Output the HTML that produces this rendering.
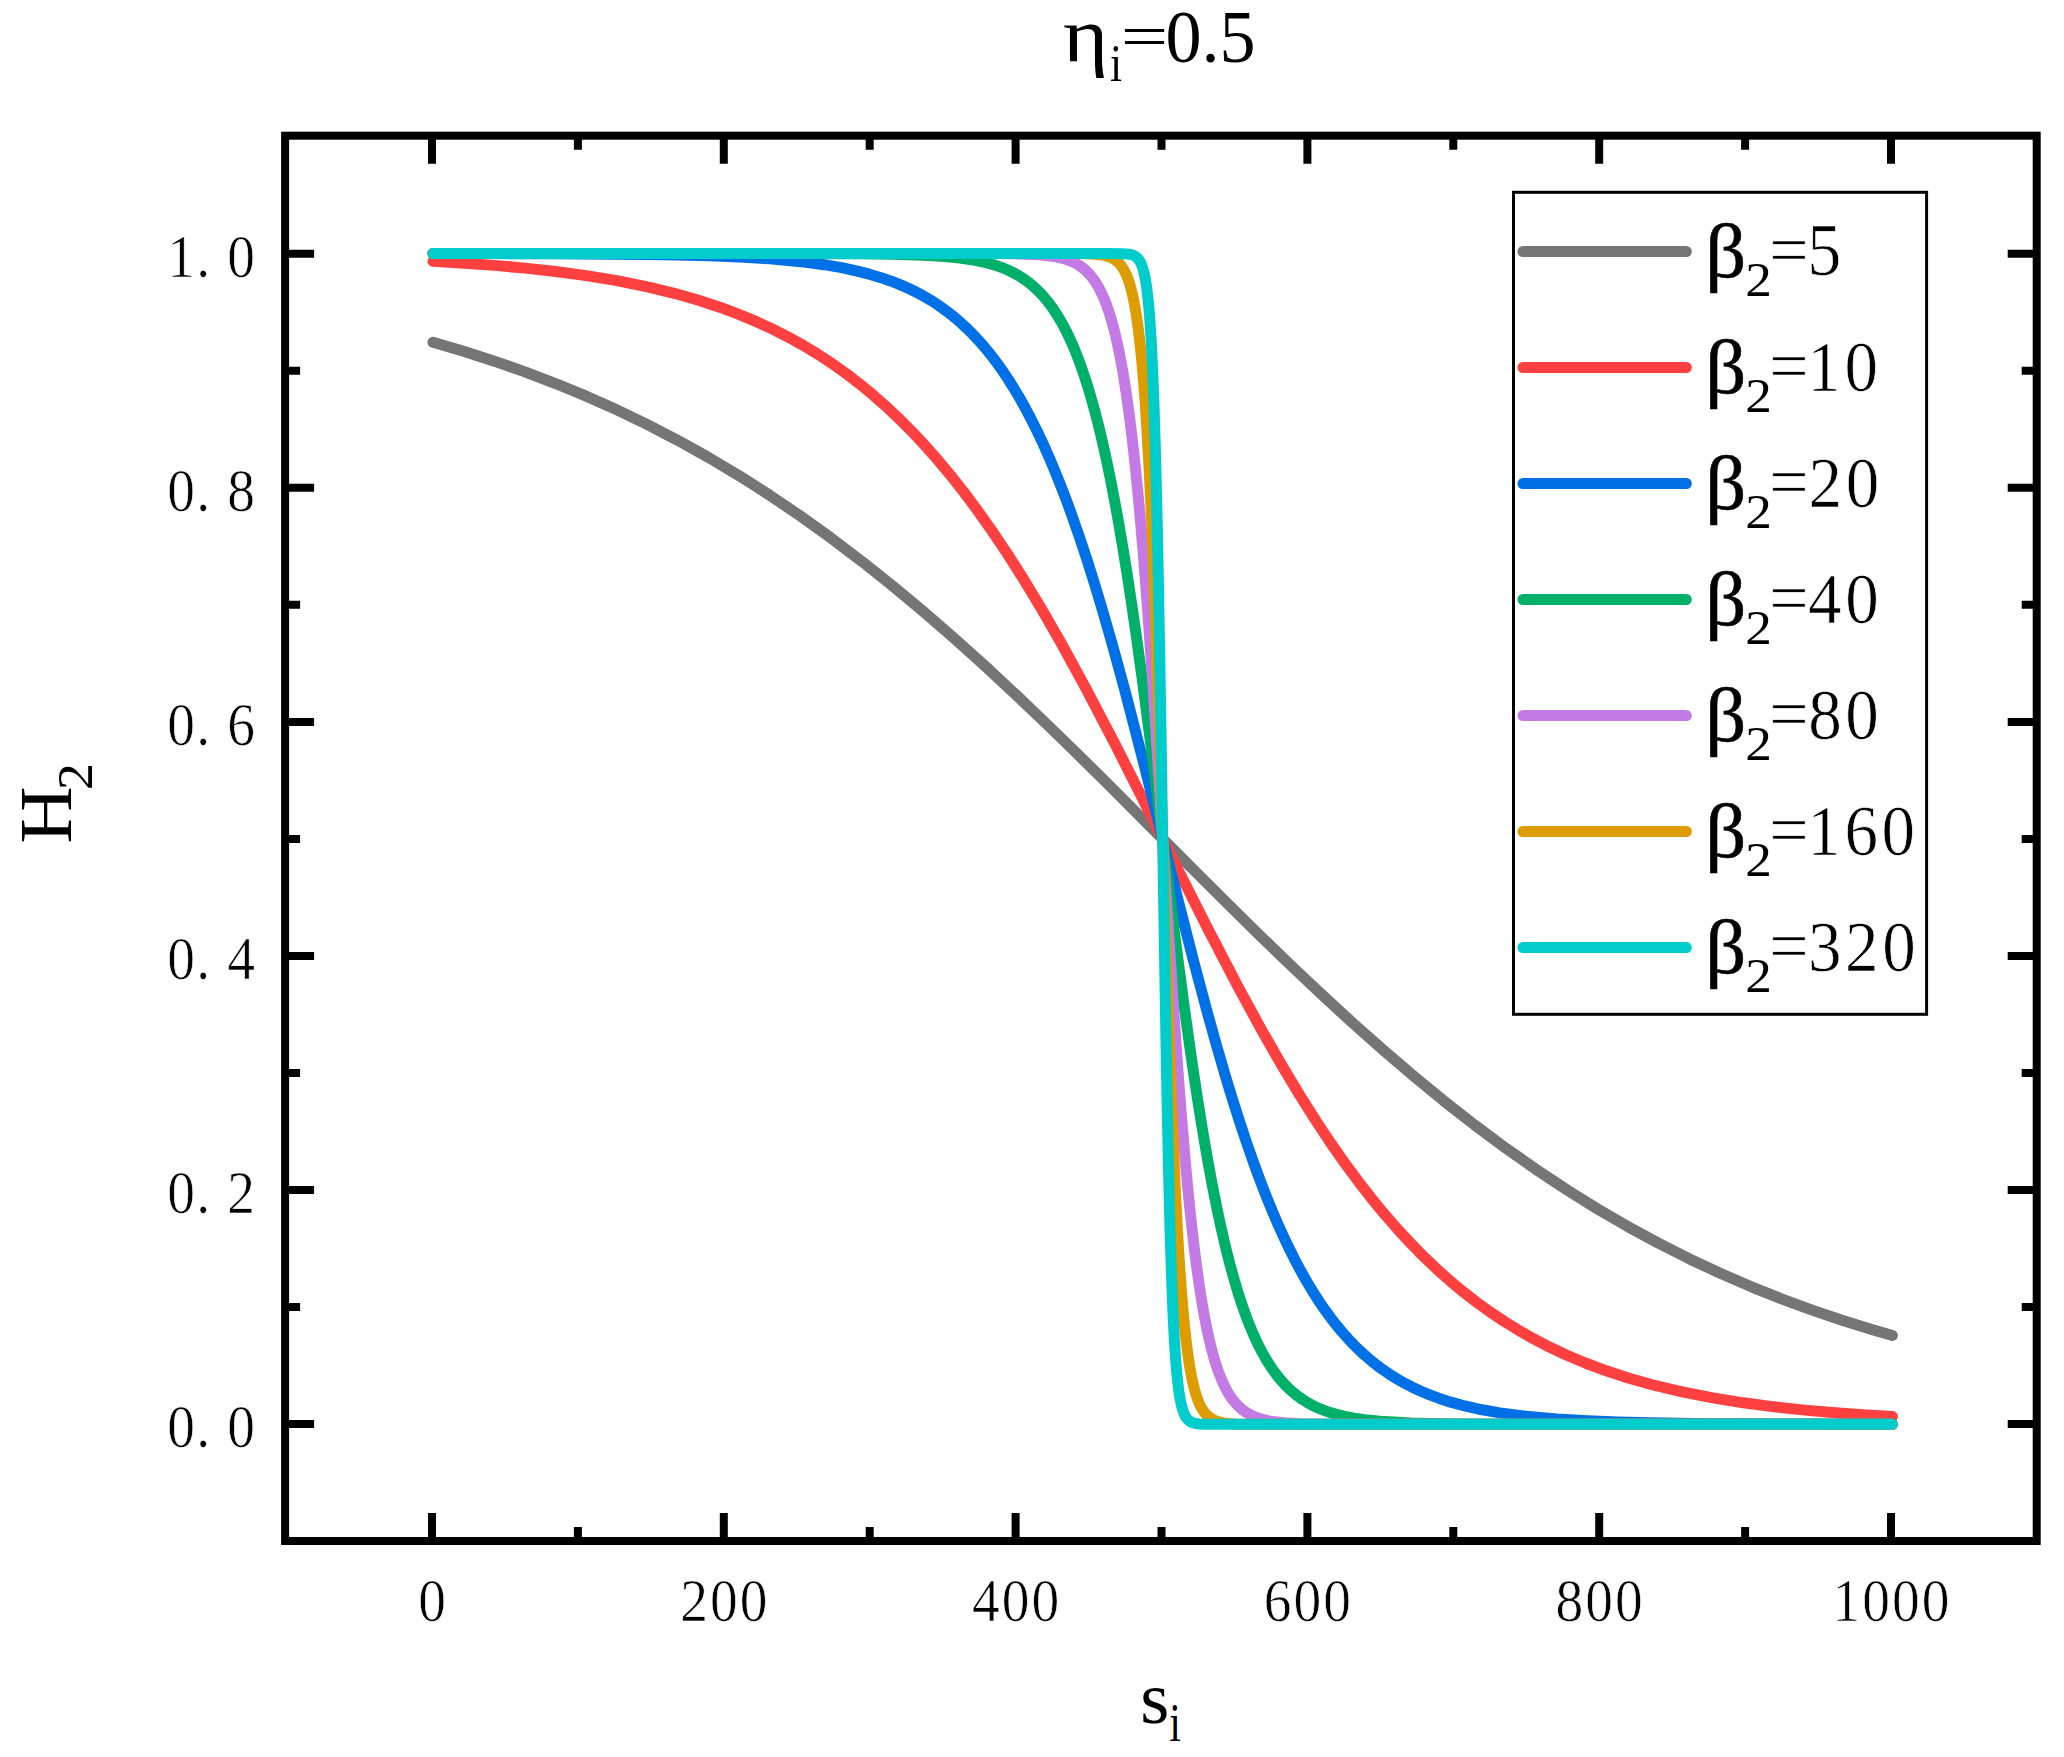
<!DOCTYPE html>
<html lang="en"><head><meta charset="utf-8"><title>H2 vs s_i</title>
<style>html,body{margin:0;padding:0;background:#fff}body{width:2064px;height:1757px;overflow:hidden}svg{display:block}text{font-family:"Liberation Serif", serif;fill:#000}.thin{stroke:#fff;stroke-width:0.7px;paint-order:fill stroke}</style></head><body>
<svg width="2064" height="1757" viewBox="0 0 2064 1757">
<rect x="0" y="0" width="2064" height="1757" fill="#fff"/>
<g fill="none" stroke-width="11.0" stroke-linecap="round" stroke-linejoin="round">
<path d="M433.00 342.31 L463.65 351.33 L494.29 361.16 L524.94 371.87 L555.59 383.52 L586.24 396.17 L616.88 409.85 L647.53 424.63 L678.18 440.55 L708.83 457.65 L739.47 475.95 L770.12 495.49 L800.77 516.27 L831.42 538.28 L862.06 561.52 L892.71 585.94 L923.36 611.49 L954.01 638.10 L984.65 665.69 L1015.30 694.15 L1045.95 723.36 L1076.60 753.17 L1107.24 783.45 L1137.89 814.04 L1168.54 844.75 L1199.18 875.44 L1229.83 905.93 L1260.48 936.05 L1291.13 965.65 L1321.77 994.59 L1352.42 1022.73 L1383.07 1049.96 L1413.72 1076.18 L1444.36 1101.30 L1475.01 1125.27 L1505.66 1148.05 L1536.31 1169.59 L1566.95 1189.90 L1597.60 1208.96 L1628.25 1226.81 L1658.90 1243.45 L1689.54 1258.93 L1720.19 1273.29 L1750.84 1286.57 L1781.49 1298.83 L1812.13 1310.11 L1842.78 1320.49 L1873.43 1330.00 L1892.40 1335.49" stroke="#757575"/>
<path d="M433.00 261.34 L463.65 263.15 L494.29 265.38 L524.94 268.13 L555.59 271.49 L586.24 275.62 L616.88 280.67 L647.53 286.83 L675.26 293.57 L698.61 300.24 L720.50 307.46 L739.47 314.56 L756.99 321.89 L773.04 329.33 L789.09 337.51 L803.69 345.65 L818.28 354.51 L832.88 364.13 L846.01 373.48 L859.14 383.52 L872.28 394.30 L885.41 405.83 L898.55 418.16 L911.68 431.31 L924.82 445.31 L937.95 460.19 L951.09 475.95 L964.22 492.62 L977.36 510.21 L991.95 530.81 L1006.54 552.53 L1022.60 577.67 L1040.11 606.54 L1060.54 641.99 L1085.35 687.30 L1116.00 746.03 L1146.65 806.74 L1177.29 868.15 L1207.94 928.92 L1238.59 987.76 L1261.94 1030.61 L1282.37 1066.31 L1299.88 1095.42 L1315.94 1120.80 L1330.53 1142.74 L1345.12 1163.56 L1358.26 1181.35 L1371.39 1198.22 L1384.53 1214.19 L1397.66 1229.26 L1410.80 1243.45 L1423.93 1256.79 L1437.07 1269.30 L1450.20 1281.01 L1463.34 1291.95 L1476.47 1302.15 L1489.61 1311.65 L1504.20 1321.43 L1518.79 1330.43 L1533.39 1338.71 L1549.44 1347.04 L1566.95 1355.26 L1585.93 1363.24 L1606.36 1370.85 L1628.25 1378.00 L1653.06 1385.00 L1682.25 1391.92 L1712.89 1397.92 L1743.54 1402.82 L1774.19 1406.83 L1804.84 1410.10 L1835.48 1412.76 L1866.13 1414.93 L1892.40 1416.46" stroke="#FF4040"/>
<path d="M433.00 253.55 L463.65 253.58 L494.29 253.62 L524.94 253.69 L555.59 253.79 L586.24 253.93 L616.88 254.16 L647.53 254.50 L678.18 255.03 L708.83 255.82 L739.47 257.03 L770.12 258.87 L800.77 261.65 L824.12 264.70 L841.63 267.70 L856.23 270.80 L869.36 274.15 L881.04 277.66 L891.25 281.20 L900.01 284.64 L908.76 288.49 L916.06 292.05 L923.36 295.96 L930.66 300.24 L937.95 304.94 L943.79 309.03 L949.63 313.41 L955.47 318.13 L961.30 323.19 L967.14 328.62 L972.98 334.45 L978.82 340.69 L984.65 347.37 L990.49 354.51 L996.33 362.14 L1002.17 370.29 L1008.00 378.97 L1013.84 388.22 L1019.68 398.06 L1025.52 408.50 L1031.35 419.58 L1037.19 431.31 L1043.03 443.71 L1048.87 456.81 L1054.70 470.60 L1060.54 485.10 L1066.38 500.33 L1072.22 516.27 L1079.51 537.21 L1086.81 559.25 L1094.11 582.38 L1102.86 611.49 L1113.08 647.19 L1124.76 690.04 L1143.73 763.22 L1174.38 885.63 L1193.35 960.06 L1206.48 1009.43 L1216.70 1046.13 L1225.45 1076.18 L1232.75 1100.13 L1240.05 1123.04 L1247.35 1144.87 L1254.64 1165.58 L1260.48 1181.35 L1266.32 1196.39 L1272.15 1210.72 L1277.99 1224.33 L1283.83 1237.25 L1289.67 1249.48 L1295.51 1261.05 L1301.34 1271.97 L1307.18 1282.26 L1313.02 1291.95 L1318.86 1301.05 L1324.69 1309.60 L1330.53 1317.61 L1336.37 1325.12 L1342.21 1332.15 L1348.04 1338.71 L1353.88 1344.85 L1359.72 1350.57 L1365.56 1355.91 L1371.39 1360.88 L1377.23 1365.51 L1383.07 1369.82 L1390.37 1374.79 L1397.66 1379.32 L1404.96 1383.45 L1412.26 1387.21 L1421.01 1391.29 L1429.77 1394.93 L1439.99 1398.68 L1451.66 1402.40 L1464.80 1405.95 L1480.85 1409.53 L1499.82 1412.88 L1526.09 1416.31 L1556.74 1419.04 L1587.39 1420.84 L1618.03 1422.02 L1648.68 1422.80 L1679.33 1423.32 L1709.98 1423.65 L1740.62 1423.87 L1771.27 1424.02 L1801.92 1424.12 L1832.56 1424.18 L1863.21 1424.22 L1892.40 1424.25" stroke="#0070E6"/>
<path d="M433.00 253.50 L463.65 253.50 L494.29 253.50 L524.94 253.50 L555.59 253.50 L586.24 253.50 L616.88 253.50 L647.53 253.50 L678.18 253.50 L708.83 253.50 L739.47 253.51 L770.12 253.52 L800.77 253.56 L831.42 253.63 L862.06 253.81 L892.71 254.22 L923.36 255.16 L945.25 256.51 L959.84 257.99 L970.06 259.43 L978.82 261.03 L986.11 262.68 L991.95 264.26 L997.79 266.11 L1002.17 267.70 L1006.54 269.49 L1010.92 271.49 L1015.30 273.75 L1019.68 276.28 L1022.60 278.14 L1025.52 280.14 L1028.44 282.30 L1031.35 284.64 L1034.27 287.16 L1037.19 289.87 L1040.11 292.80 L1043.03 295.96 L1045.95 299.36 L1048.87 303.01 L1051.79 306.95 L1054.70 311.18 L1057.62 315.73 L1060.54 320.62 L1063.46 325.86 L1066.38 331.48 L1069.30 337.51 L1072.22 343.97 L1075.14 350.88 L1078.05 358.26 L1080.97 366.15 L1083.89 374.56 L1086.81 383.52 L1089.73 393.06 L1092.65 403.20 L1095.57 413.96 L1098.49 425.36 L1101.41 437.43 L1104.32 450.17 L1107.24 463.61 L1110.16 477.76 L1113.08 492.62 L1116.00 508.21 L1118.92 524.51 L1123.30 550.30 L1127.67 577.67 L1132.05 606.54 L1136.43 636.81 L1142.27 679.14 L1151.02 746.03 L1175.83 943.15 L1183.13 998.66 L1188.97 1040.99 L1193.35 1071.26 L1197.73 1100.13 L1202.10 1127.50 L1206.48 1153.29 L1209.40 1169.59 L1212.32 1185.18 L1215.24 1200.04 L1218.16 1214.19 L1221.08 1227.63 L1223.99 1240.37 L1226.91 1252.44 L1229.83 1263.84 L1232.75 1274.60 L1235.67 1284.74 L1238.59 1294.28 L1241.51 1303.24 L1244.43 1311.65 L1247.35 1319.54 L1250.26 1326.92 L1253.18 1333.83 L1256.10 1340.29 L1259.02 1346.32 L1261.94 1351.94 L1264.86 1357.18 L1267.78 1362.07 L1270.70 1366.62 L1273.61 1370.85 L1276.53 1374.79 L1279.45 1378.44 L1282.37 1381.84 L1285.29 1385.00 L1288.21 1387.93 L1291.13 1390.64 L1294.05 1393.16 L1296.96 1395.50 L1299.88 1397.66 L1302.80 1399.66 L1307.18 1402.40 L1311.56 1404.83 L1315.94 1407.00 L1320.32 1408.93 L1324.69 1410.65 L1330.53 1412.65 L1336.37 1414.36 L1343.67 1416.15 L1352.42 1417.88 L1364.10 1419.63 L1380.15 1421.29 L1410.80 1423.00 L1441.45 1423.74 L1472.09 1424.06 L1502.74 1424.20 L1533.39 1424.25 L1564.04 1424.28 L1594.68 1424.29 L1625.33 1424.30 L1655.98 1424.30 L1686.62 1424.30 L1717.27 1424.30 L1747.92 1424.30 L1778.57 1424.30 L1809.21 1424.30 L1839.86 1424.30 L1870.51 1424.30 L1892.40 1424.30" stroke="#00AF68"/>
<path d="M433.00 253.50 L463.65 253.50 L494.29 253.50 L524.94 253.50 L555.59 253.50 L586.24 253.50 L616.88 253.50 L647.53 253.50 L678.18 253.50 L708.83 253.50 L739.47 253.50 L770.12 253.50 L800.77 253.50 L831.42 253.50 L862.06 253.50 L892.71 253.50 L923.36 253.50 L954.01 253.51 L984.65 253.57 L1015.30 253.86 L1034.27 254.52 L1044.49 255.29 L1051.79 256.17 L1056.16 256.90 L1060.54 257.81 L1063.46 258.56 L1066.38 259.43 L1069.30 260.46 L1072.22 261.65 L1075.14 263.06 L1078.05 264.70 L1079.51 265.62 L1080.97 266.62 L1082.43 267.70 L1083.89 268.87 L1085.35 270.13 L1086.81 271.49 L1088.27 272.97 L1089.73 274.56 L1091.19 276.28 L1092.65 278.14 L1094.11 280.14 L1095.57 282.30 L1097.03 284.64 L1098.49 287.16 L1099.95 289.87 L1101.41 292.80 L1102.86 295.96 L1104.32 299.36 L1105.78 303.01 L1107.24 306.95 L1108.70 311.18 L1110.16 315.73 L1111.62 320.62 L1113.08 325.86 L1114.54 331.48 L1116.00 337.51 L1117.46 343.97 L1118.92 350.88 L1120.38 358.26 L1121.84 366.15 L1123.30 374.56 L1124.76 383.52 L1126.22 393.06 L1127.67 403.20 L1129.13 413.96 L1130.59 425.36 L1132.05 437.43 L1133.51 450.17 L1134.97 463.61 L1136.43 477.76 L1137.89 492.62 L1139.35 508.21 L1140.81 524.51 L1143.73 559.25 L1146.65 596.75 L1149.57 636.81 L1152.48 679.14 L1156.86 746.03 L1168.54 931.77 L1172.92 998.66 L1175.83 1040.99 L1178.75 1081.05 L1181.67 1118.55 L1184.59 1153.29 L1186.05 1169.59 L1187.51 1185.18 L1188.97 1200.04 L1190.43 1214.19 L1191.89 1227.63 L1193.35 1240.37 L1194.81 1252.44 L1196.27 1263.84 L1197.73 1274.60 L1199.18 1284.74 L1200.64 1294.28 L1202.10 1303.24 L1203.56 1311.65 L1205.02 1319.54 L1206.48 1326.92 L1207.94 1333.83 L1209.40 1340.29 L1210.86 1346.32 L1212.32 1351.94 L1213.78 1357.18 L1215.24 1362.07 L1216.70 1366.62 L1218.16 1370.85 L1219.62 1374.79 L1221.08 1378.44 L1222.54 1381.84 L1223.99 1385.00 L1225.45 1387.93 L1226.91 1390.64 L1228.37 1393.16 L1229.83 1395.50 L1231.29 1397.66 L1232.75 1399.66 L1234.21 1401.52 L1235.67 1403.24 L1237.13 1404.83 L1238.59 1406.31 L1240.05 1407.67 L1241.51 1408.93 L1242.97 1410.10 L1244.43 1411.18 L1245.89 1412.18 L1248.80 1413.95 L1251.72 1415.47 L1254.64 1416.77 L1257.56 1417.88 L1260.48 1418.82 L1264.86 1419.99 L1269.24 1420.90 L1275.07 1421.83 L1283.83 1422.77 L1301.34 1423.71 L1331.99 1424.19 L1362.64 1424.28 L1393.29 1424.30 L1423.93 1424.30 L1454.58 1424.30 L1485.23 1424.30 L1515.87 1424.30 L1546.52 1424.30 L1577.17 1424.30 L1607.82 1424.30 L1638.46 1424.30 L1669.11 1424.30 L1699.76 1424.30 L1730.41 1424.30 L1761.05 1424.30 L1791.70 1424.30 L1822.35 1424.30 L1853.00 1424.30 L1883.64 1424.30 L1892.40 1424.30" stroke="#C47AE4"/>
<path d="M433.00 253.50 L463.65 253.50 L494.29 253.50 L524.94 253.50 L555.59 253.50 L586.24 253.50 L616.88 253.50 L647.53 253.50 L678.18 253.50 L708.83 253.50 L739.47 253.50 L770.12 253.50 L800.77 253.50 L831.42 253.50 L862.06 253.50 L892.71 253.50 L923.36 253.50 L954.01 253.50 L984.65 253.50 L1015.30 253.50 L1045.95 253.50 L1076.60 253.59 L1089.73 253.89 L1095.57 254.24 L1099.95 254.70 L1102.86 255.16 L1105.78 255.78 L1107.24 256.17 L1108.70 256.64 L1110.16 257.18 L1111.62 257.81 L1113.08 258.56 L1114.54 259.43 L1116.00 260.46 L1117.46 261.65 L1118.92 263.06 L1120.38 264.70 L1121.84 266.62 L1123.30 268.87 L1124.76 271.49 L1126.22 274.56 L1127.67 278.14 L1129.13 282.30 L1130.59 287.16 L1132.05 292.80 L1133.51 299.36 L1134.97 306.95 L1136.43 315.73 L1137.89 325.86 L1139.35 337.51 L1140.81 350.88 L1142.27 366.15 L1143.73 383.52 L1145.19 403.20 L1146.65 425.36 L1148.11 450.17 L1149.57 477.76 L1151.02 508.21 L1152.48 541.53 L1153.94 577.67 L1155.40 616.48 L1156.86 657.71 L1159.78 746.03 L1165.62 931.77 L1168.54 1020.09 L1170.00 1061.32 L1171.46 1100.13 L1172.92 1136.27 L1174.38 1169.59 L1175.83 1200.04 L1177.29 1227.63 L1178.75 1252.44 L1180.21 1274.60 L1181.67 1294.28 L1183.13 1311.65 L1184.59 1326.92 L1186.05 1340.29 L1187.51 1351.94 L1188.97 1362.07 L1190.43 1370.85 L1191.89 1378.44 L1193.35 1385.00 L1194.81 1390.64 L1196.27 1395.50 L1197.73 1399.66 L1199.18 1403.24 L1200.64 1406.31 L1202.10 1408.93 L1203.56 1411.18 L1205.02 1413.10 L1206.48 1414.74 L1207.94 1416.15 L1209.40 1417.34 L1210.86 1418.37 L1212.32 1419.24 L1213.78 1419.99 L1215.24 1420.62 L1216.70 1421.16 L1218.16 1421.63 L1221.08 1422.36 L1223.99 1422.89 L1228.37 1423.43 L1235.67 1423.91 L1266.32 1424.29 L1296.96 1424.30 L1327.61 1424.30 L1358.26 1424.30 L1388.91 1424.30 L1419.55 1424.30 L1450.20 1424.30 L1480.85 1424.30 L1511.50 1424.30 L1542.14 1424.30 L1572.79 1424.30 L1603.44 1424.30 L1634.09 1424.30 L1664.73 1424.30 L1695.38 1424.30 L1726.03 1424.30 L1756.68 1424.30 L1787.32 1424.30 L1817.97 1424.30 L1848.62 1424.30 L1879.27 1424.30 L1892.40 1424.30" stroke="#DD9C00"/>
<path d="M433.00 253.50 L463.65 253.50 L494.29 253.50 L524.94 253.50 L555.59 253.50 L586.24 253.50 L616.88 253.50 L647.53 253.50 L678.18 253.50 L708.83 253.50 L739.47 253.50 L770.12 253.50 L800.77 253.50 L831.42 253.50 L862.06 253.50 L892.71 253.50 L923.36 253.50 L954.01 253.50 L984.65 253.50 L1015.30 253.50 L1045.95 253.50 L1076.60 253.50 L1107.24 253.51 L1121.84 253.65 L1126.22 253.89 L1129.13 254.24 L1130.59 254.52 L1132.05 254.91 L1133.51 255.44 L1134.97 256.17 L1136.43 257.18 L1137.89 258.56 L1139.35 260.46 L1140.81 263.06 L1142.27 266.62 L1143.73 271.49 L1145.19 278.14 L1146.65 287.16 L1148.11 299.36 L1149.57 315.73 L1151.02 337.51 L1152.48 366.15 L1153.94 403.20 L1155.40 450.17 L1156.86 508.21 L1158.32 577.67 L1159.78 657.71 L1161.24 746.03 L1164.16 931.77 L1165.62 1020.09 L1167.08 1100.13 L1168.54 1169.59 L1170.00 1227.63 L1171.46 1274.60 L1172.92 1311.65 L1174.38 1340.29 L1175.83 1362.07 L1177.29 1378.44 L1178.75 1390.64 L1180.21 1399.66 L1181.67 1406.31 L1183.13 1411.18 L1184.59 1414.74 L1186.05 1417.34 L1187.51 1419.24 L1188.97 1420.62 L1190.43 1421.63 L1191.89 1422.36 L1193.35 1422.89 L1194.81 1423.28 L1196.27 1423.56 L1199.18 1423.91 L1205.02 1424.19 L1235.67 1424.30 L1266.32 1424.30 L1296.96 1424.30 L1327.61 1424.30 L1358.26 1424.30 L1388.91 1424.30 L1419.55 1424.30 L1450.20 1424.30 L1480.85 1424.30 L1511.50 1424.30 L1542.14 1424.30 L1572.79 1424.30 L1603.44 1424.30 L1634.09 1424.30 L1664.73 1424.30 L1695.38 1424.30 L1726.03 1424.30 L1756.68 1424.30 L1787.32 1424.30 L1817.97 1424.30 L1848.62 1424.30 L1879.27 1424.30 L1892.40 1424.30" stroke="#00CCCC"/>
</g>
<g stroke="#000" stroke-width="8" fill="none" stroke-linecap="butt">
<rect x="285.1" y="135.7" width="1751.6" height="1405.3"/>
<path d="M432.00 1541.00 v-28.10 M432.00 135.70 v28.10 M577.90 1541.00 v-14.10 M577.90 135.70 v14.10 M723.80 1541.00 v-28.10 M723.80 135.70 v28.10 M869.70 1541.00 v-14.10 M869.70 135.70 v14.10 M1015.60 1541.00 v-28.10 M1015.60 135.70 v28.10 M1161.50 1541.00 v-14.10 M1161.50 135.70 v14.10 M1307.40 1541.00 v-28.10 M1307.40 135.70 v28.10 M1453.30 1541.00 v-14.10 M1453.30 135.70 v14.10 M1599.20 1541.00 v-28.10 M1599.20 135.70 v28.10 M1745.10 1541.00 v-14.10 M1745.10 135.70 v14.10 M1891.00 1541.00 v-28.10 M1891.00 135.70 v28.10 M285.10 1424.00 h29.00 M2036.70 1424.00 h-29.00 M285.10 1306.98 h15.00 M2036.70 1306.98 h-15.00 M285.10 1189.96 h29.00 M2036.70 1189.96 h-29.00 M285.10 1072.94 h15.00 M2036.70 1072.94 h-15.00 M285.10 955.92 h29.00 M2036.70 955.92 h-29.00 M285.10 838.90 h15.00 M2036.70 838.90 h-15.00 M285.10 721.88 h29.00 M2036.70 721.88 h-29.00 M285.10 604.86 h15.00 M2036.70 604.86 h-15.00 M285.10 487.84 h29.00 M2036.70 487.84 h-29.00 M285.10 370.82 h15.00 M2036.70 370.82 h-15.00 M285.10 253.80 h29.00 M2036.70 253.80 h-29.00"/>
</g>
<g font-size="61.6" text-anchor="middle" class="thin">
<text transform="scale(0.900 1)" x="480.00" y="1620.9">0</text>
<text transform="scale(0.900 1)" x="771.17 804.22 837.28" y="1620.9">200</text>
<text transform="scale(0.900 1)" x="1095.39 1128.44 1161.50" y="1620.9">400</text>
<text transform="scale(0.900 1)" x="1419.61 1452.67 1485.72" y="1620.9">600</text>
<text transform="scale(0.900 1)" x="1743.83 1776.89 1809.94" y="1620.9">800</text>
<text transform="scale(0.900 1)" x="2051.53 2084.58 2117.64 2150.69" y="1620.9">1000</text>
<text transform="scale(0.900 1)" x="201.33 225.89 267.89" y="1446.8">0.0</text>
<text transform="scale(0.900 1)" x="201.33 225.89 267.89" y="1212.8">0.2</text>
<text transform="scale(0.900 1)" x="201.33 225.89 267.89" y="978.7">0.4</text>
<text transform="scale(0.900 1)" x="201.33 225.89 267.89" y="744.7">0.6</text>
<text transform="scale(0.900 1)" x="201.33 225.89 267.89" y="510.6">0.8</text>
<text transform="scale(0.900 1)" x="201.33 225.89 267.89" y="276.6">1.0</text>
</g>
<text><tspan x="1063.05" y="61.20" font-size="79.00" textLength="45.28" lengthAdjust="spacingAndGlyphs">η</tspan><tspan x="1109.88" y="81.00" font-size="53.20" textLength="12.15" lengthAdjust="spacingAndGlyphs">i</tspan><tspan x="1120.70" y="56.50" font-size="60.40" textLength="47.51" lengthAdjust="spacingAndGlyphs">=</tspan><tspan x="1165.45" y="62.00" font-size="74.60" textLength="90.16" lengthAdjust="spacingAndGlyphs">0.5</tspan></text>
<text><tspan x="1140.34" y="1723.10" font-size="74.60" textLength="29.06" lengthAdjust="spacingAndGlyphs">s</tspan><tspan x="1169.32" y="1741.20" font-size="54.20" textLength="11.68" lengthAdjust="spacingAndGlyphs">i</tspan></text>
<text transform="translate(0 841.2) rotate(-90)"><tspan x="-2.27" y="71.00" font-size="74.70" textLength="56.98" lengthAdjust="spacingAndGlyphs">H</tspan><tspan x="51.13" y="91.70" font-size="50.90" textLength="26.94" lengthAdjust="spacingAndGlyphs">2</tspan></text>
<rect x="1513.5" y="192.3" width="413.1" height="822" fill="#fff" stroke="#000" stroke-width="3"/>
<g fill="none" stroke-width="11.0" stroke-linecap="round">
<path d="M1523 251.5 H1686.3" stroke="#757575"/>
<path d="M1523 367.5 H1686.3" stroke="#FF4040"/>
<path d="M1523 483.5 H1686.3" stroke="#0070E6"/>
<path d="M1523 599.5 H1686.3" stroke="#00AF68"/>
<path d="M1523 715.5 H1686.3" stroke="#C47AE4"/>
<path d="M1523 831.5 H1686.3" stroke="#DD9C00"/>
<path d="M1523 947.5 H1686.3" stroke="#00CCCC"/>
</g>
<text><tspan x="1705.20" y="276.50" font-size="75.40" textLength="41.02" lengthAdjust="spacingAndGlyphs" stroke="#000" stroke-width="0.6">β</tspan><tspan x="1745.17" y="295.90" font-size="49.00" textLength="26.57" lengthAdjust="spacingAndGlyphs">2</tspan><tspan x="1769.22" y="274.20" font-size="70.90" textLength="39.39" lengthAdjust="spacingAndGlyphs" class="thin">=</tspan><tspan x="1807.33" y="275.40" font-size="74.20" textLength="34.13" lengthAdjust="spacingAndGlyphs" class="thin">5</tspan></text>
<text><tspan x="1705.20" y="392.50" font-size="75.40" textLength="41.02" lengthAdjust="spacingAndGlyphs" stroke="#000" stroke-width="0.6">β</tspan><tspan x="1745.17" y="411.90" font-size="49.00" textLength="26.57" lengthAdjust="spacingAndGlyphs">2</tspan><tspan x="1769.22" y="390.20" font-size="70.90" textLength="39.39" lengthAdjust="spacingAndGlyphs" class="thin">=</tspan><tspan x="1807.30" y="390.70" font-size="72.90" letter-spacing="3.876" textLength="74.20" lengthAdjust="spacingAndGlyphs" class="thin">10</tspan></text>
<text><tspan x="1705.20" y="508.50" font-size="75.40" textLength="41.02" lengthAdjust="spacingAndGlyphs" stroke="#000" stroke-width="0.6">β</tspan><tspan x="1745.17" y="527.90" font-size="49.00" textLength="26.57" lengthAdjust="spacingAndGlyphs">2</tspan><tspan x="1769.22" y="506.20" font-size="70.90" textLength="39.39" lengthAdjust="spacingAndGlyphs" class="thin">=</tspan><tspan x="1808.61" y="506.70" font-size="72.90" letter-spacing="3.876" textLength="74.20" lengthAdjust="spacingAndGlyphs" class="thin">20</tspan></text>
<text><tspan x="1705.20" y="624.50" font-size="75.40" textLength="41.02" lengthAdjust="spacingAndGlyphs" stroke="#000" stroke-width="0.6">β</tspan><tspan x="1745.17" y="643.90" font-size="49.00" textLength="26.57" lengthAdjust="spacingAndGlyphs">2</tspan><tspan x="1769.22" y="622.20" font-size="70.90" textLength="39.39" lengthAdjust="spacingAndGlyphs" class="thin">=</tspan><tspan x="1808.10" y="622.70" font-size="72.90" letter-spacing="3.876" textLength="74.20" lengthAdjust="spacingAndGlyphs" class="thin">40</tspan></text>
<text><tspan x="1705.20" y="740.50" font-size="75.40" textLength="41.02" lengthAdjust="spacingAndGlyphs" stroke="#000" stroke-width="0.6">β</tspan><tspan x="1745.17" y="759.90" font-size="49.00" textLength="26.57" lengthAdjust="spacingAndGlyphs">2</tspan><tspan x="1769.22" y="738.20" font-size="70.90" textLength="39.39" lengthAdjust="spacingAndGlyphs" class="thin">=</tspan><tspan x="1808.23" y="738.70" font-size="72.90" letter-spacing="3.876" textLength="74.20" lengthAdjust="spacingAndGlyphs" class="thin">80</tspan></text>
<text><tspan x="1705.20" y="856.50" font-size="75.40" textLength="41.02" lengthAdjust="spacingAndGlyphs" stroke="#000" stroke-width="0.6">β</tspan><tspan x="1745.17" y="875.90" font-size="49.00" textLength="26.57" lengthAdjust="spacingAndGlyphs">2</tspan><tspan x="1769.22" y="854.20" font-size="70.90" textLength="39.39" lengthAdjust="spacingAndGlyphs" class="thin">=</tspan><tspan x="1807.30" y="854.70" font-size="72.90" letter-spacing="3.876" textLength="111.30" lengthAdjust="spacingAndGlyphs" class="thin">160</tspan></text>
<text><tspan x="1705.20" y="972.50" font-size="75.40" textLength="41.02" lengthAdjust="spacingAndGlyphs" stroke="#000" stroke-width="0.6">β</tspan><tspan x="1745.17" y="991.90" font-size="49.00" textLength="26.57" lengthAdjust="spacingAndGlyphs">2</tspan><tspan x="1769.22" y="970.20" font-size="70.90" textLength="39.39" lengthAdjust="spacingAndGlyphs" class="thin">=</tspan><tspan x="1807.94" y="970.70" font-size="72.90" letter-spacing="3.876" textLength="111.30" lengthAdjust="spacingAndGlyphs" class="thin">320</tspan></text>
</svg></body></html>
